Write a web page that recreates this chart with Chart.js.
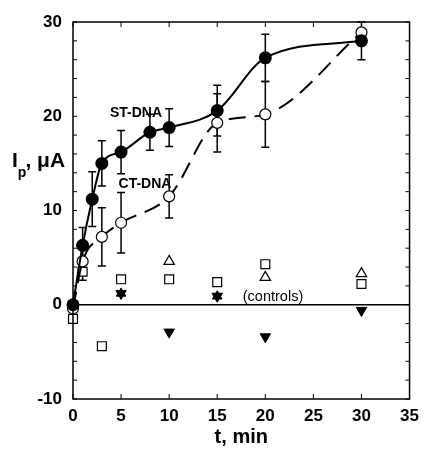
<!DOCTYPE html>
<html>
<head>
<meta charset="utf-8">
<script src="https://cdn.jsdelivr.net/npm/chart.js@4.4.1/dist/chart.umd.min.js"></script>
<style>
  html, body { margin: 0; padding: 0; background: #fff; }
  #wrap { width: 426px; height: 449px; }
</style>
</head>
<body>
<div id="wrap"><canvas id="chart"></canvas></div>
<script>
/* global Chart */
// values (t in min, Ip in uA)
const stTime = [0, 1, 2, 3, 5, 8, 10, 15, 20, 30];
const stCurrent = [0, 6.3, 11.2, 15.0, 16.2, 18.3, 18.8, 20.6, 26.2, 28.0];
const stError = [0, 1.9, 2.9, 2.4, 2.3, 1.9, 2.0, 2.7, 2.5, 2.0];

const ctTime = [0, 1, 3, 5, 10, 15, 20, 30];
const ctCurrent = [-0.4, 4.6, 7.2, 8.7, 11.5, 19.3, 20.2, 28.9];
const ctError = [0, 2.0, 3.1, 3.2, 2.3, 3.1, 3.5, 0];

// controls
const squareTime = [0, 1, 3, 5, 10, 15, 20, 30];
const squareCurrent = [-1.5, 3.5, -4.4, 2.7, 2.7, 2.4, 4.3, 2.2];
const openTriTime = [10, 20, 30];
const openTriCurrent = [4.6, 2.9, 3.3];
const upTriTime = [5, 15];
const upTriCurrent = [1.2, 0.9];
const downTriTime = [5, 10, 15, 20, 30];
const downTriCurrent = [1.2, -2.9, 0.9, -3.4, -0.6];

const xTicks = [0, 5, 10, 15, 20, 25, 30, 35];
const yTicks = [-10, 0, 10, 20, 30];

const toPoints = (xs, ys) => xs.map((x, i) => ({ x, y: ys[i] }));
const font = "'Liberation Sans', Arial, sans-serif";

// error bars, inward ticks on all four sides, labels
const decorations = {
  id: "decorations",
  beforeDatasetsDraw(chart) {
    const { ctx, scales: { x, y } } = chart;
    ctx.save();
    ctx.strokeStyle = "#000";
    ctx.lineWidth = 1.5;
    chart.data.datasets.forEach((ds) => {
      if (!ds.errors) return;
      ds.data.forEach((p, i) => {
        const e = ds.errors[i];
        if (!e) return;
        const px = x.getPixelForValue(p.x);
        const top = y.getPixelForValue(p.y + e);
        const bot = y.getPixelForValue(p.y - e);
        ctx.beginPath();
        ctx.moveTo(px, top);
        ctx.lineTo(px, bot);
        ctx.moveTo(px - 4, top);
        ctx.lineTo(px + 4, top);
        ctx.moveTo(px - 4, bot);
        ctx.lineTo(px + 4, bot);
        ctx.stroke();
      });
    });
    ctx.restore();
  },
  afterDraw(chart) {
    const { ctx, chartArea: a, scales: { x, y } } = chart;
    ctx.save();
    ctx.strokeStyle = "#000";
    ctx.lineWidth = 1.5;
    ctx.strokeRect(a.left, a.top, a.right - a.left, a.bottom - a.top);
    ctx.lineWidth = 1;
    ctx.beginPath();
    for (let v = -10; v <= 30; v += 2) {
      const py = y.getPixelForValue(v);
      ctx.moveTo(a.left, py);
      ctx.lineTo(a.left + 4, py);
      ctx.moveTo(a.right, py);
      ctx.lineTo(a.right - 4, py);
    }
    xTicks.forEach((v) => {
      const px = x.getPixelForValue(v);
      ctx.moveTo(px, a.bottom);
      ctx.lineTo(px, a.bottom - 5);
      ctx.moveTo(px, a.top);
      ctx.lineTo(px, a.top + 5);
    });
    ctx.stroke();

    ctx.fillStyle = "#000";
    ctx.textBaseline = "alphabetic";
    // y title, written horizontally with a subscript p
    ctx.textAlign = "left";
    ctx.font = `bold 21px ${font}`;
    ctx.fillText("I", 12, 167);
    let cx = 12 + ctx.measureText("I").width;
    ctx.font = `bold 14px ${font}`;
    ctx.fillText("p", cx, 177);
    cx += ctx.measureText("p").width;
    ctx.font = `bold 21px ${font}`;
    ctx.fillText(", \u03bcA", cx - 1, 167);

    ctx.textAlign = "center";
    ctx.textBaseline = "middle";
    ctx.font = `bold 14px ${font}`;
    ctx.fillText("ST-DNA", 136, 113);
    ctx.fillText("CT-DNA", 145, 184);
    ctx.font = `14.5px ${font}`;
    ctx.fillText("(controls)", 273, 297);
    ctx.restore();
  },
};

// eslint-disable-next-line no-new
new Chart(document.getElementById("chart"), {
  type: "scatter",
  plugins: [decorations],
  data: {
    datasets: [
      {
        label: "ST-DNA",
        data: toPoints(stTime, stCurrent),
        errors: stError,
        showLine: true,
        cubicInterpolationMode: "monotone",
        borderColor: "#000",
        borderWidth: 2,
        backgroundColor: "#000",
        pointBackgroundColor: "#000",
        pointRadius: 6.5,
        pointBorderWidth: 0,
        clip: false,
      },
      {
        label: "CT-DNA",
        data: toPoints(ctTime, ctCurrent),
        errors: ctError,
        showLine: true,
        cubicInterpolationMode: "monotone",
        borderColor: "#000",
        borderWidth: 2,
        borderDash: [17, 9],
        pointBackgroundColor: "#fff",
        pointBorderColor: "#000",
        pointBorderWidth: 1.2,
        pointRadius: 5.5,
        clip: false,
      },
      {
        label: "squares",
        data: toPoints(squareTime, squareCurrent),
        pointStyle: "rect",
        pointRadius: 6.3,
        pointBackgroundColor: "#fff",
        pointBorderColor: "#000",
        pointBorderWidth: 1.2,
        clip: false,
      },
      {
        label: "open triangles",
        data: toPoints(openTriTime, openTriCurrent),
        pointStyle: "triangle",
        pointRadius: 6,
        pointBackgroundColor: "#fff",
        pointBorderColor: "#000",
        pointBorderWidth: 1.2,
        clip: false,
      },
      {
        label: "filled triangles up",
        data: toPoints(upTriTime, upTriCurrent),
        pointStyle: "triangle",
        pointRadius: 5.5,
        pointBackgroundColor: "#000",
        pointBorderColor: "#000",
        pointBorderWidth: 1,
        clip: false,
      },
      {
        label: "filled triangles down",
        data: toPoints(downTriTime, downTriCurrent),
        pointStyle: "triangle",
        rotation: 180,
        pointRadius: 6,
        pointBackgroundColor: "#000",
        pointBorderColor: "#000",
        pointBorderWidth: 1,
        clip: false,
      },
    ],
  },
  options: {
    animation: false,
    responsive: true,
    maintainAspectRatio: false,
    devicePixelRatio: 1,
    events: [],
    layout: { padding: { top: 22, right: 10, left: 0, bottom: 0 } },
    plugins: {
      legend: { display: false },
      tooltip: { enabled: false },
    },
    scales: {
      x: {
        type: "linear",
        min: 0,
        max: 35,
        afterFit: (s) => { s.height = 50; },
        afterBuildTicks: (s) => { s.ticks = xTicks.map((value) => ({ value })); },
        grid: { display: false, drawTicks: false },
        border: { display: false },
        ticks: {
          color: "#000",
          padding: 7,
          maxRotation: 0,
          font: { family: font, size: 17, weight: "bold" },
        },
        title: {
          display: true,
          text: "t, min",
          color: "#000",
          padding: { top: 0, bottom: 0 },
          font: { family: font, size: 20, weight: "bold" },
        },
      },
      y: {
        min: -10,
        max: 30,
        afterFit: (s) => { s.width = 73; },
        afterBuildTicks: (s) => { s.ticks = yTicks.map((value) => ({ value })); },
        grid: {
          drawTicks: false,
          color: (c) => (c.tick && c.tick.value === 0 ? "#000" : "rgba(0,0,0,0)"),
          lineWidth: 1.5,
        },
        border: { display: false },
        ticks: {
          color: "#000",
          padding: 11,
          font: { family: font, size: 17, weight: "bold" },
        },
      },
    },
  },
});
</script>
</body>
</html>
